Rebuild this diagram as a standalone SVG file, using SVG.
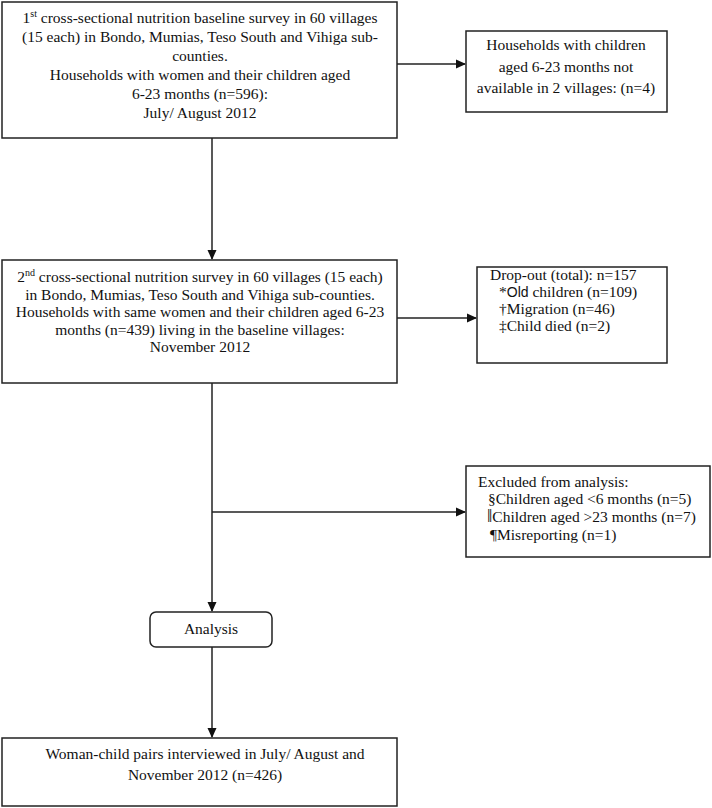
<svg xmlns="http://www.w3.org/2000/svg" width="712" height="808" viewBox="0 0 712 808">
<defs>
<marker id="arr" markerWidth="10" markerHeight="10" refX="9" refY="5" orient="auto" markerUnits="userSpaceOnUse">
<path d="M0,0.5 L10,5 L0,9.5 Z" fill="#111"/>
</marker>
<style>
.box{fill:#fff;stroke:#222;stroke-width:1.5}
.t{font-family:"Liberation Serif","Times New Roman",serif;font-size:15.5px;fill:#111}
.c{text-anchor:middle}
.ln{fill:none;stroke:#222;stroke-width:1.5}
.sup{font-size:10px}
.sans{font-family:"Liberation Sans",Arial,sans-serif;font-size:14px}
.bar{font-size:19px}
</style>
</defs>
<rect width="712" height="808" fill="#fff"/>
<g id="connectors">
<line class="ln" x1="397" y1="64" x2="465" y2="64" marker-end="url(#arr)"/>
<line class="ln" x1="212" y1="138" x2="212" y2="259" marker-end="url(#arr)"/>
<line class="ln" x1="397" y1="318" x2="476" y2="318" marker-end="url(#arr)"/>
<line class="ln" x1="212" y1="383" x2="212" y2="611" marker-end="url(#arr)"/>
<line class="ln" x1="212" y1="512" x2="465" y2="512" marker-end="url(#arr)"/>
<line class="ln" x1="212" y1="647" x2="212" y2="737" marker-end="url(#arr)"/>
</g>
<g id="baseline">
<rect class="box" x="2" y="2" width="395" height="136"/>
<text class="t c" x="200" y="23">1<tspan class="sup" dy="-6">st</tspan><tspan dy="6"> cross-sectional nutrition baseline survey in 60 villages</tspan></text>
<text class="t c" x="200" y="42">(15 each) in Bondo, Mumias, Teso South and Vihiga sub-</text>
<text class="t c" x="200" y="61">counties.</text>
<text class="t c" x="200" y="80">Households with women and their children aged</text>
<text class="t c" x="200" y="99">6-23 months (n=596):</text>
<text class="t c" x="200" y="118">July/ August 2012</text>
</g>
<g id="not-available">
<rect class="box" x="466" y="31" width="201" height="81"/>
<text class="t c" x="566" y="50">Households with children</text>
<text class="t c" x="566" y="72">aged 6-23 months not</text>
<text class="t c" x="566" y="93">available in 2 villages: (n=4)</text>
</g>
<g id="second-survey">
<rect class="box" x="2" y="260" width="395" height="123"/>
<text class="t c" x="200" y="282">2<tspan class="sup" dy="-6">nd</tspan><tspan dy="6"> cross-sectional nutrition survey in 60 villages (15 each)</tspan></text>
<text class="t c" x="200" y="300">in Bondo, Mumias, Teso South and Vihiga sub-counties.</text>
<text class="t c" x="200" y="317">Households with same women and their children aged 6-23</text>
<text class="t c" x="200" y="335">months (n=439) living in the baseline villages:</text>
<text class="t c" x="200" y="352">November 2012</text>
</g>
<g id="dropout">
<rect class="box" x="477" y="267" width="190" height="96"/>
<text class="t" x="490" y="280">Drop-out (total): n=157</text>
<text class="t" x="499" y="297">*<tspan class="sans">Old</tspan> children (n=109)</text>
<text class="t" x="499" y="314">†Migration (n=46)</text>
<text class="t" x="499" y="331">‡Child died (n=2)</text>
</g>
<g id="excluded">
<rect class="box" x="466" y="466" width="244" height="91"/>
<text class="t" x="478" y="487">Excluded from analysis:</text>
<text class="t" x="488" y="504">§Children aged &lt;6 months (n=5)</text>
<text class="t" x="487" y="522"><tspan class="bar">‖</tspan>Children aged &gt;23 months (n=7)</text>
<text class="t" x="490" y="540">¶Misreporting (n=1)</text>
</g>
<g id="analysis">
<rect class="box" x="150" y="612" width="122" height="35" rx="6" ry="6"/>
<text class="t c" x="211" y="634">Analysis</text>
</g>
<g id="final">
<rect class="box" x="2" y="738" width="395" height="68"/>
<text class="t c" x="205" y="759">Woman-child pairs interviewed in July/ August and</text>
<text class="t c" x="205" y="780">November 2012 (n=426)</text>
</g>
</svg>
